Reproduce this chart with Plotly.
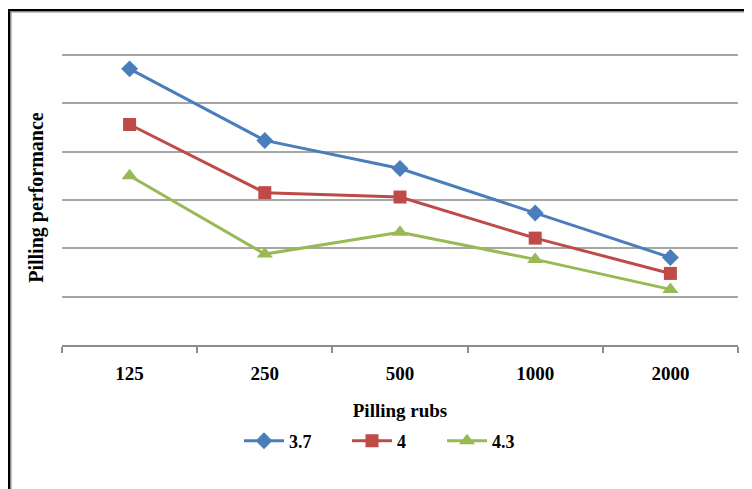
import plotly.graph_objects as go

categories = ["125", "250", "500", "1000", "2000"]
series_names = ["3.7", "4", "4.3"]
values_37 = [5.71, 4.23, 3.65, 2.73, 1.81]
values_4 = [4.56, 3.15, 3.06, 2.21, 1.48]
values_43 = [3.50, 1.88, 2.33, 1.77, 1.15]

colors = ["#4A7EBB", "#BE4B48", "#98B954"]
symbols = ["diamond", "square", "triangle-up"]
sizes = [13, 13, 14]
legend_ids = ["legend", "legend2", "legend3"]

fig = go.Figure()
for name, vals, c, s, sz, lg in zip(series_names, [values_37, values_4, values_43],
                                     colors, symbols, sizes, legend_ids):
    fig.add_trace(go.Scatter(
        x=categories, y=vals, name=name, mode="lines+markers",
        line=dict(color=c, width=3),
        marker=dict(symbol=s, size=sz, color=c),
        legend=lg,
    ))

font_family = "Liberation Serif, Times New Roman, serif"
# page body has an 8px margin, so the figure is sized to fit the window
W, H = 744, 481
L, R, T, B = 54, 14, 42, 144

pw = W - L - R
ph = H - T - B
def px_x(p):
    return (p - L) / pw
def px_y(p):
    return (H - B - p) / ph

def legend_at(xpx):
    return dict(orientation="h", x=px_x(xpx), xanchor="left", xref="paper",
                yref="container", y=(H - 433) / H, yanchor="middle",
                font=dict(family=font_family, size=18, color="black", weight="bold"),
                itemwidth=40, tracegroupgap=0, bgcolor="rgba(0,0,0,0)")

fig.update_layout(
    width=W, height=H,
    margin=dict(l=L, r=R, t=T, b=B, autoexpand=False),
    paper_bgcolor="white", plot_bgcolor="white",
    font=dict(family=font_family, size=18, color="black"),
    showlegend=True,
    legend=legend_at(231),
    legend2=legend_at(339),
    legend3=legend_at(434),
    xaxis=dict(
        type="category",
        showgrid=False,
        showline=True, linecolor="#8C8C8C", linewidth=1.5,
        ticks="outside", tickson="boundaries", ticklen=6, tickcolor="#8C8C8C", tickwidth=1.5,
        tickfont=dict(family=font_family, size=19, color="black", weight="bold"),
        ticklabelstandoff=10,
        title=dict(text="Pilling rubs", standoff=21,
                   font=dict(family=font_family, size=19, color="black", weight="bold")),
        range=[-0.5, 4.5],
    ),
    yaxis=dict(
        range=[0, 6.1], dtick=1, tick0=0,
        showgrid=True, gridcolor="#A6A6A6", gridwidth=1.5,
        zeroline=False, showline=False, showticklabels=False, ticks="",
        title=dict(text="Pilling performance", standoff=12,
                   font=dict(family=font_family, size=20, color="black", weight="bold")),
        fixedrange=True,
    ),
)

# frame around the chart (cropped at right and bottom)
fig.add_shape(type="rect", xref="paper", yref="paper",
              x0=px_x(2), x1=px_x(800), y0=px_y(560), y1=px_y(3),
              line=dict(color="#8A8A8A", width=3), layer="below")
fig.add_shape(type="rect", xref="paper", yref="paper",
              x0=px_x(1), x1=px_x(800), y0=px_y(560), y1=px_y(2),
              line=dict(color="black", width=2), layer="below")

fig.write_html("out.html")
